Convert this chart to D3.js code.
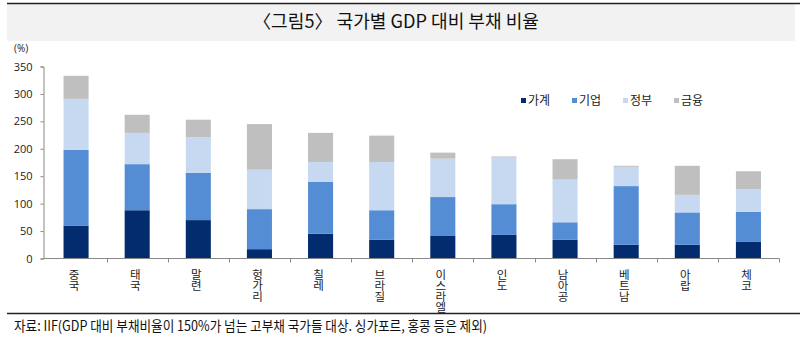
<!DOCTYPE html>
<html><head><meta charset="utf-8">
<script src="https://cdn.jsdelivr.net/npm/d3@7"></script>
<style>body{margin:0;background:#fff}svg{display:block}</style>
</head><body>
<svg id="c" width="800" height="340"></svg>
<script>
const categories = ["중국","태국","말련","헝가리","칠레","브라질","이스라엘","인도","남아공","베트남","아랍","체코"];
const seriesNames = ["가계","기업","정부","금융"];
const household = [60, 88, 70, 17, 45, 34, 42, 43, 34, 25, 25, 31];
const corporate = [138, 84, 86, 73, 95, 54, 70, 56, 32, 107, 59, 54];
const government = [93, 57, 65, 72, 36, 88, 70, 85, 78, 35, 32, 41];
const financial = [42, 33, 32, 83, 53, 48, 11, 2, 37, 2, 53, 33];
const yTicks = [0, 50, 100, 150, 200, 250, 300, 350];
const colors = ["#032C6E", "#548DD4", "#C6D9F1", "#BFBFBF"];

const svg = d3.select("#c");
const sansKR = "'Noto Sans CJK KR', 'Noto Sans', sans-serif";

// title band
svg.append("rect").attr("x", 7).attr("y", 4).attr("width", 788).attr("height", 37).attr("fill", "#F2F2F2");
svg.append("line").attr("x1", 7).attr("x2", 800).attr("y1", 3.5).attr("y2", 3.5).attr("stroke", "#222").attr("stroke-width", 1.6);
svg.append("text").attr("x", 396).attr("y", 28).attr("text-anchor", "middle")
  .attr("font-family", sansKR).attr("font-size", 18).attr("fill", "#111")
  .attr("textLength", 286).attr("lengthAdjust", "spacingAndGlyphs")
  .text("〈그림5〉 국가별 GDP 대비 부채 비율");

// scales
const x = d3.scaleBand().domain(categories).range([45.5, 779]).paddingInner(0.59).paddingOuter(0.295);
const y = d3.scaleLinear().domain([0, 350]).range([258.5, 66.5]);

const rows = categories.map((c, i) => ({cat: c, 가계: household[i], 기업: corporate[i], 정부: government[i], 금융: financial[i]}));
const stacked = d3.stack().keys(seriesNames)(rows);

svg.append("g").selectAll("g").data(stacked).join("g")
  .attr("fill", (d, i) => colors[i])
  .selectAll("rect").data(d => d).join("rect")
  .attr("x", d => x(d.data.cat))
  .attr("width", x.bandwidth())
  .attr("y", d => y(d[1]))
  .attr("height", d => y(d[0]) - y(d[1]));

// y axis
const yAxis = svg.append("g").attr("transform", "translate(43.5,0)")
  .call(d3.axisLeft(y).tickValues(yTicks).tickSize(3).tickPadding(8));
yAxis.select(".domain").attr("stroke", "#888");
yAxis.selectAll(".tick line").attr("stroke", "#888");
yAxis.selectAll("text").attr("font-family", "'Open Sans', sans-serif").attr("font-size", 11).attr("fill", "#222");
svg.append("text").attr("x", 14).attr("y", 52).attr("font-family", "'Open Sans', sans-serif")
  .attr("font-size", 10).attr("fill", "#222").text("(%)");

// x axis
const xAxisG = svg.append("g").attr("transform", "translate(0,258.5)");
xAxisG.append("line").attr("x1", 43.5).attr("x2", 779.5).attr("stroke", "#888");
const step = x.step();
const bounds = categories.map(c => x(c) + x.bandwidth() / 2 + step / 2);
xAxisG.selectAll("line.tk").data(bounds).join("line").attr("class", "tk")
  .attr("x1", d => Math.round(d) + 0.5).attr("x2", d => Math.round(d) + 0.5)
  .attr("y1", 0).attr("y2", 4).attr("stroke", "#888");

// vertical x labels, one character per line
const lbl = svg.append("g").attr("font-family", sansKR).attr("font-size", 11.5).attr("fill", "#222");
categories.forEach(c => {
  const cx = x(c) + x.bandwidth() / 2 - 2;
  const t = lbl.append("text").attr("text-anchor", "middle");
  Array.from(c).forEach((ch, j) => {
    t.append("tspan").attr("x", cx).attr("y", 278.5 + j * 11.3).text(ch);
  });
});

// legend
const legX = [521, 572, 623, 674];
const leg = svg.append("g").attr("font-family", sansKR).attr("font-size", 12).attr("fill", "#222");
seriesNames.forEach((s, i) => {
  leg.append("rect").attr("x", legX[i]).attr("y", 98).attr("width", 5).attr("height", 5).attr("fill", colors[i]);
  leg.append("text").attr("x", legX[i] + 7).attr("y", 105).text(s);
});

// footer
svg.append("line").attr("x1", 7).attr("x2", 800).attr("y1", 313.5).attr("y2", 313.5).attr("stroke", "#222").attr("stroke-width", 1.6);
svg.append("text").attr("x", 14).attr("y", 331).attr("font-family", sansKR).attr("font-size", 14).attr("fill", "#111")
  .attr("textLength", 473).attr("lengthAdjust", "spacingAndGlyphs")
  .text("자료: IIF(GDP 대비 부채비율이 150%가 넘는 고부채 국가들 대상. 싱가포르, 홍콩 등은 제외)");
</script>
</body></html>
